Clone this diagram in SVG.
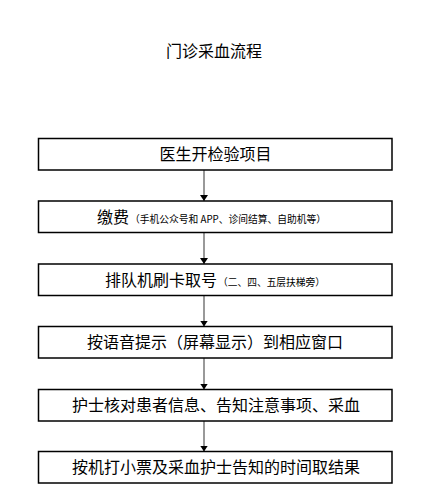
<svg xmlns="http://www.w3.org/2000/svg" width="429" height="503" viewBox="0 0 429 503">
<style>
.box{fill:#fff;stroke:#000;stroke-width:1.5}
.t{font-family:"Noto Sans CJK SC","Liberation Sans",sans-serif;font-size:16px;fill:#000}
.s{font-size:10px}
.c{stroke:#555;stroke-width:1.2;fill:none}
</style>
<defs>
<marker id="ah" viewBox="0 0 6 8" refX="6" refY="4" markerWidth="6" markerHeight="8" orient="auto" markerUnits="userSpaceOnUse">
<path d="M0,0 L6,4 L0,8 Z" fill="#000"/>
</marker>
</defs>
<rect width="429" height="503" fill="#fff"/>
<text class="t" x="214" y="57" text-anchor="middle">门诊采血流程</text>
<g id="connectors">
<line class="c" x1="204" y1="170" x2="204" y2="201" marker-end="url(#ah)"/>
<line class="c" x1="204" y1="232.5" x2="204" y2="264" marker-end="url(#ah)"/>
<line class="c" x1="204" y1="295.5" x2="204" y2="326.5" marker-end="url(#ah)"/>
<line class="c" x1="204" y1="358" x2="204" y2="389.5" marker-end="url(#ah)"/>
<line class="c" x1="204" y1="421" x2="204" y2="451.5" marker-end="url(#ah)"/>
</g>
<g id="n1">
<rect class="box" x="38.5" y="138.5" width="353.5" height="31.5"/>
<text class="t" x="215.5" y="160" text-anchor="middle">医生开检验项目</text>
</g>
<g id="n2">
<rect class="box" x="38.5" y="201" width="353.5" height="31.5"/>
<text class="t" x="97" y="222.5">缴费<tspan class="s" x="130" textLength="196" lengthAdjust="spacingAndGlyphs">（手机公众号和 APP、诊间结算、自助机等）</tspan></text>
</g>
<g id="n3">
<rect class="box" x="38.5" y="264" width="353.5" height="31.5"/>
<text class="t" x="105" y="285.5">排队机刷卡取号<tspan class="s" x="218" textLength="107" lengthAdjust="spacingAndGlyphs">（二、四、五层扶梯旁）</tspan></text>
</g>
<g id="n4">
<rect class="box" x="38.5" y="326.5" width="353.5" height="31.5"/>
<text class="t" x="215" y="348" text-anchor="middle">按语音提示（屏幕显示）到相应窗口</text>
</g>
<g id="n5">
<rect class="box" x="38.5" y="389.5" width="353.5" height="31.5"/>
<text class="t" x="216" y="411" text-anchor="middle">护士核对患者信息、告知注意事项、采血</text>
</g>
<g id="n6">
<rect class="box" x="38.5" y="451.5" width="353.5" height="31.5"/>
<text class="t" x="216" y="473" text-anchor="middle">按机打小票及采血护士告知的时间取结果</text>
</g>
</svg>
